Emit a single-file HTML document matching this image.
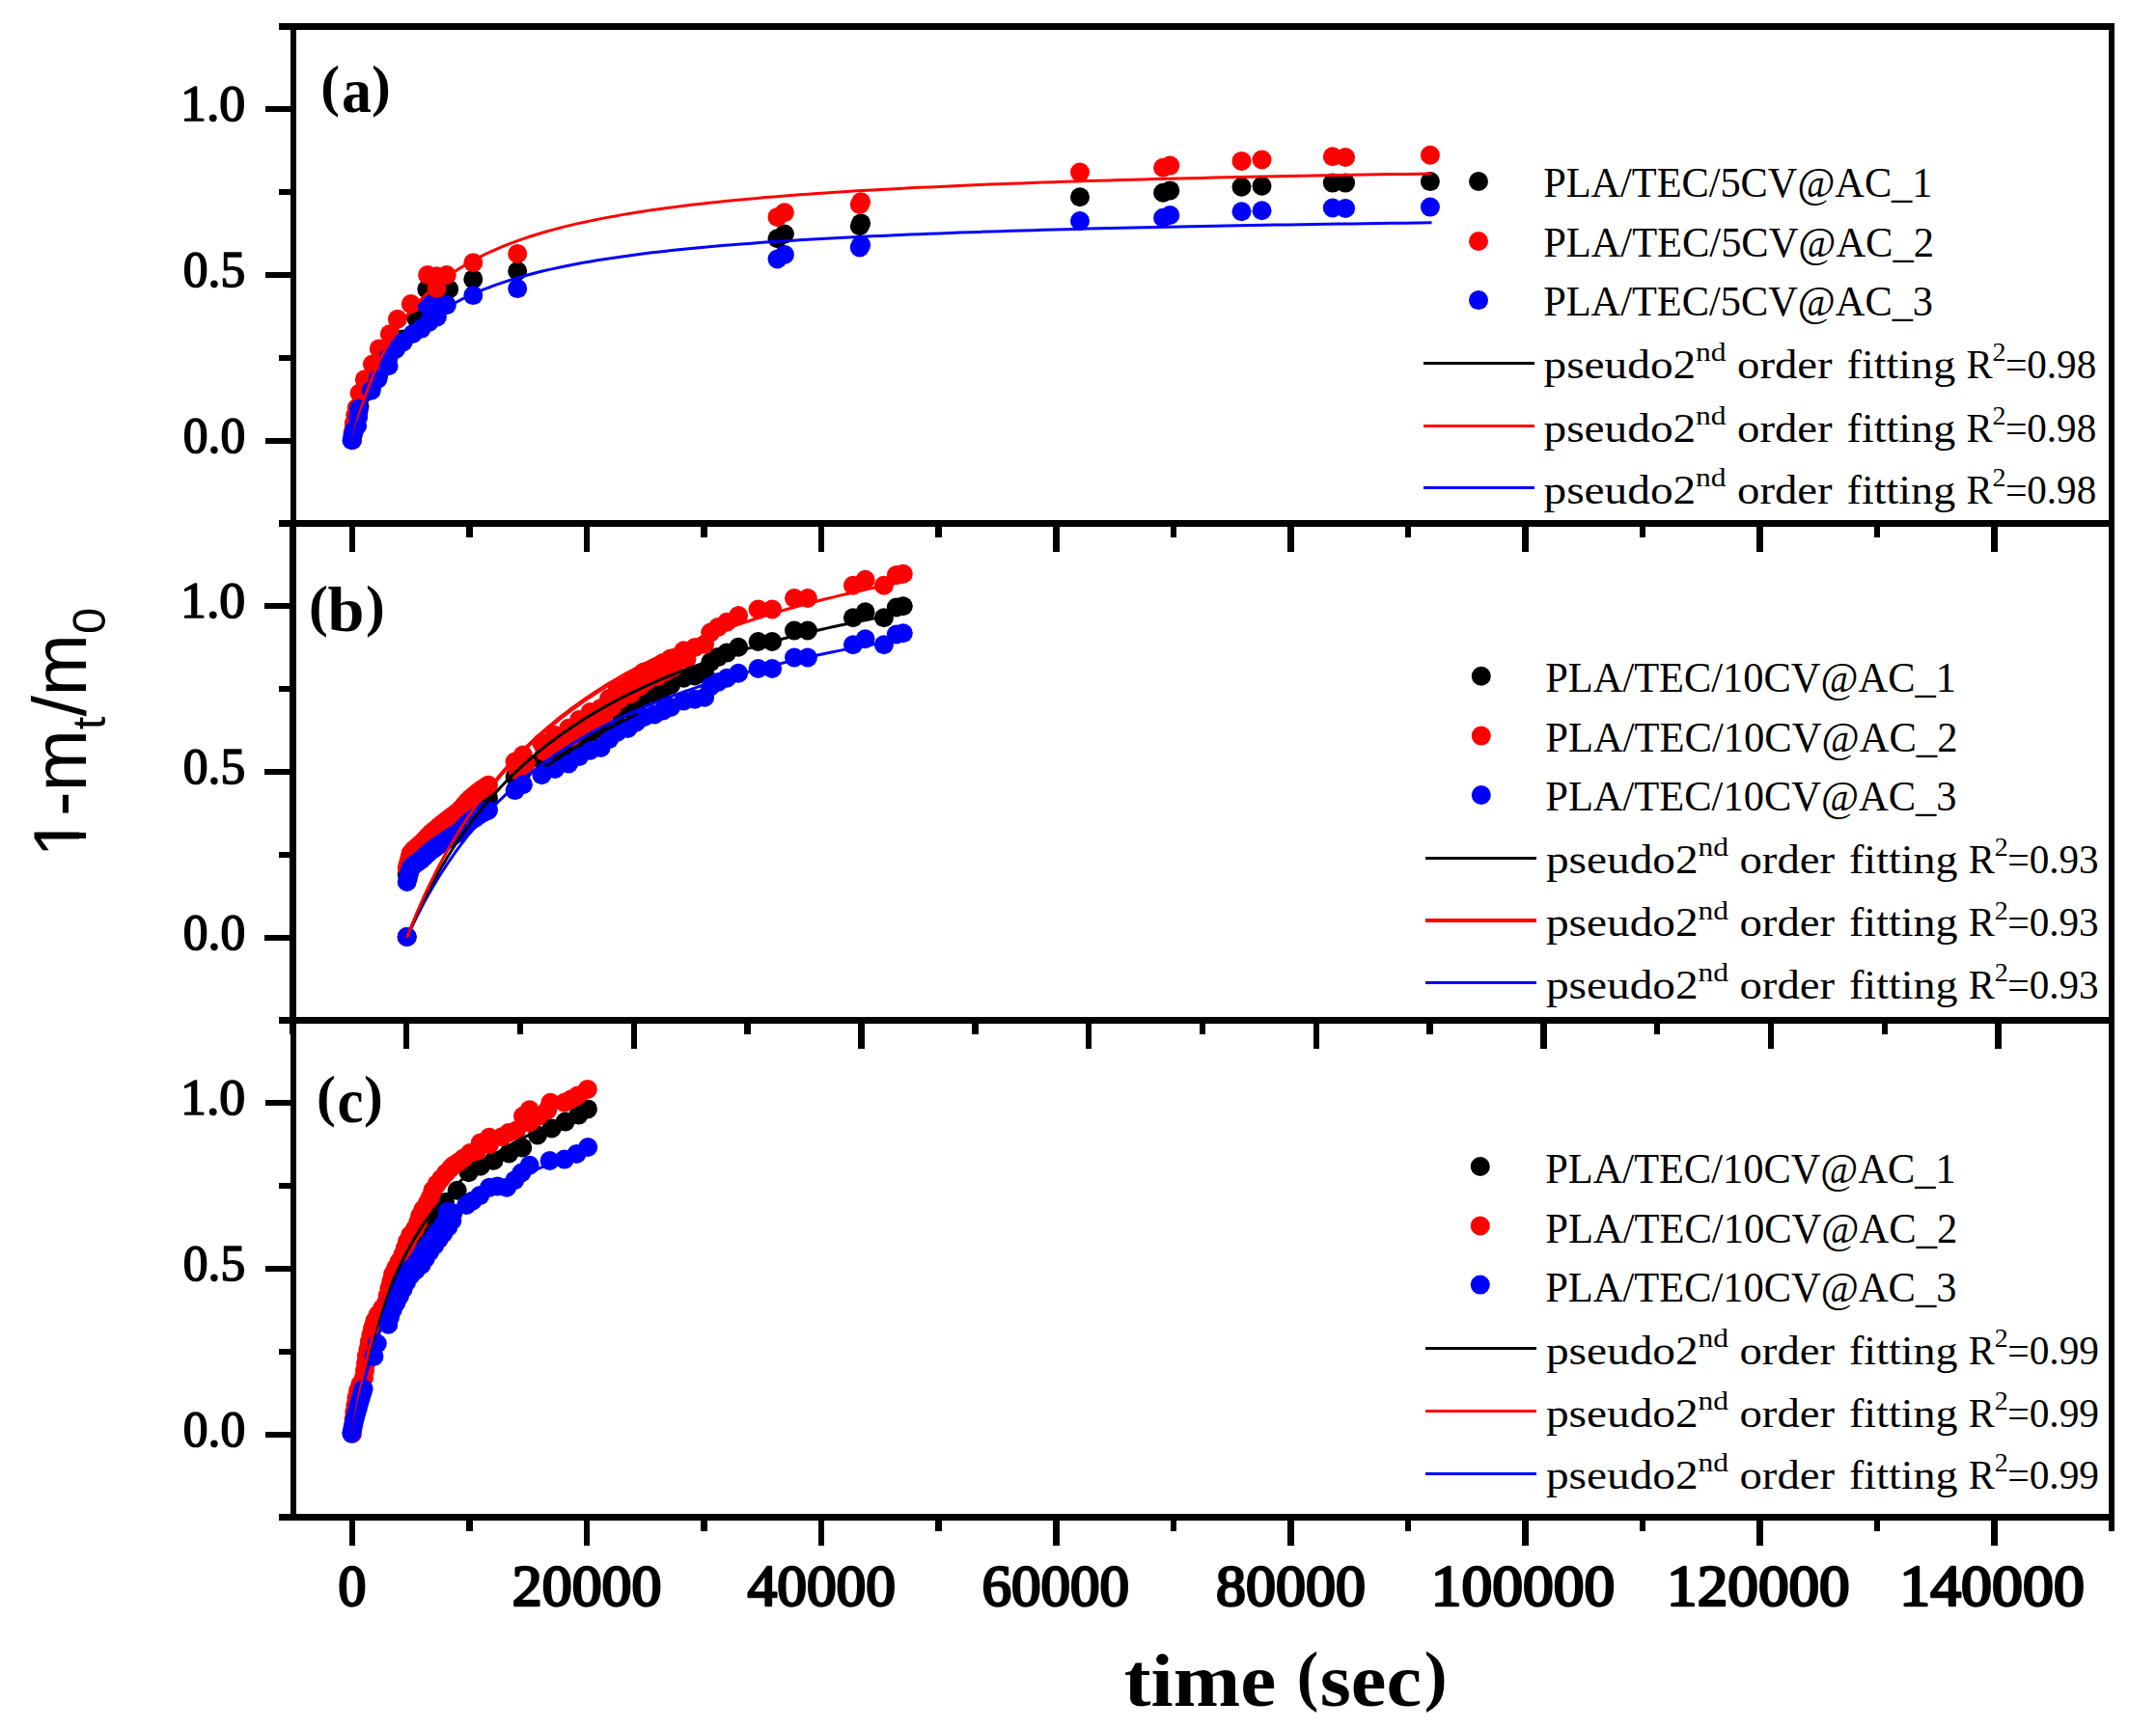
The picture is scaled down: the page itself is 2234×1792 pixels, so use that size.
<!DOCTYPE html>
<html lang="en"><head><meta charset="utf-8"><title>Release kinetics</title>
<style>html,body{margin:0;padding:0;background:#fff}svg{display:block}</style></head>
<body>
<svg width="2234" height="1792" viewBox="0 0 2234 1792">
<rect width="2234" height="1792" fill="#fff"/>
<g id="plots">
<g fill="#000000"><circle cx="365.0" cy="456.3" r="10"/><circle cx="365.8" cy="450.0" r="10"/><circle cx="367.0" cy="444.0" r="10"/><circle cx="369.0" cy="439.0" r="10"/><circle cx="371.0" cy="430.0" r="10"/><circle cx="372.5" cy="421.0" r="10"/><circle cx="376.5" cy="408.0" r="10"/><circle cx="385.0" cy="401.5" r="10"/><circle cx="392.0" cy="389.5" r="10"/><circle cx="401.0" cy="375.0" r="10"/><circle cx="409.0" cy="360.5" r="10"/><circle cx="417.0" cy="351.5" r="10"/><circle cx="431.0" cy="329.5" r="10"/><circle cx="442.3" cy="299.8" r="10"/><circle cx="452.5" cy="301.0" r="10"/><circle cx="465.2" cy="299.8" r="10"/><circle cx="490.3" cy="289.4" r="10"/><circle cx="536.2" cy="281.0" r="10"/><circle cx="805.5" cy="247.2" r="10"/><circle cx="812.9" cy="242.6" r="10"/><circle cx="890.8" cy="234.2" r="10"/><circle cx="892.1" cy="231.4" r="10"/><circle cx="1119.0" cy="204.2" r="10"/><circle cx="1205.1" cy="199.8" r="10"/><circle cx="1212.3" cy="197.4" r="10"/><circle cx="1286.5" cy="193.7" r="10"/><circle cx="1307.5" cy="192.7" r="10"/><circle cx="1380.8" cy="189.6" r="10"/><circle cx="1394.1" cy="189.6" r="10"/><circle cx="1481.9" cy="188.1" r="10"/></g>
<g fill="#ff0000"><circle cx="365.0" cy="456.0" r="10"/><circle cx="365.6" cy="448.1" r="10"/><circle cx="366.8" cy="438.9" r="10"/><circle cx="368.2" cy="430.5" r="10"/><circle cx="369.7" cy="422.7" r="10"/><circle cx="372.6" cy="407.6" r="10"/><circle cx="377.8" cy="393.2" r="10"/><circle cx="385.9" cy="377.6" r="10"/><circle cx="392.8" cy="361.4" r="10"/><circle cx="403.8" cy="346.3" r="10"/><circle cx="411.9" cy="330.7" r="10"/><circle cx="425.8" cy="315.1" r="10"/><circle cx="452.5" cy="299.0" r="10"/><circle cx="443.1" cy="285.0" r="10"/><circle cx="452.4" cy="286.2" r="10"/><circle cx="462.8" cy="285.0" r="10"/><circle cx="490.3" cy="272.3" r="10"/><circle cx="536.2" cy="263.0" r="10"/><circle cx="805.5" cy="224.9" r="10"/><circle cx="812.9" cy="220.3" r="10"/><circle cx="890.8" cy="212.0" r="10"/><circle cx="892.1" cy="209.2" r="10"/><circle cx="1119.0" cy="178.6" r="10"/><circle cx="1205.1" cy="173.8" r="10"/><circle cx="1212.3" cy="171.6" r="10"/><circle cx="1286.5" cy="166.9" r="10"/><circle cx="1307.5" cy="165.5" r="10"/><circle cx="1380.8" cy="162.3" r="10"/><circle cx="1394.1" cy="163.0" r="10"/><circle cx="1481.9" cy="160.8" r="10"/></g>
<g fill="#0000ff"><circle cx="364.5" cy="456.2" r="10"/><circle cx="365.5" cy="451.0" r="10"/><circle cx="367.0" cy="446.0" r="10"/><circle cx="370.1" cy="441.2" r="10"/><circle cx="371.2" cy="432.0" r="10"/><circle cx="372.0" cy="423.8" r="10"/><circle cx="384.7" cy="404.7" r="10"/><circle cx="391.6" cy="392.6" r="10"/><circle cx="402.6" cy="379.3" r="10"/><circle cx="402.6" cy="370.6" r="10"/><circle cx="410.0" cy="362.0" r="10"/><circle cx="417.7" cy="354.4" r="10"/><circle cx="427.7" cy="346.0" r="10"/><circle cx="436.7" cy="340.6" r="10"/><circle cx="444.5" cy="334.0" r="10"/><circle cx="452.9" cy="328.4" r="10"/><circle cx="442.5" cy="316.3" r="10"/><circle cx="452.9" cy="318.5" r="10"/><circle cx="462.8" cy="316.3" r="10"/><circle cx="490.3" cy="306.1" r="10"/><circle cx="536.2" cy="299.1" r="10"/><circle cx="805.5" cy="268.5" r="10"/><circle cx="812.9" cy="263.9" r="10"/><circle cx="890.8" cy="256.5" r="10"/><circle cx="892.1" cy="253.7" r="10"/><circle cx="1119.0" cy="229.0" r="10"/><circle cx="1205.1" cy="225.8" r="10"/><circle cx="1212.3" cy="223.0" r="10"/><circle cx="1286.5" cy="219.3" r="10"/><circle cx="1307.5" cy="218.3" r="10"/><circle cx="1380.8" cy="215.5" r="10"/><circle cx="1394.1" cy="215.9" r="10"/><circle cx="1481.9" cy="214.6" r="10"/></g>
<path d="M365.0 456.5 L365.0 456.3 L365.2 455.8 L365.4 454.9 L365.7 453.7 L366.1 452.1 L366.6 450.2 L367.1 448.0 L367.8 445.6 L368.5 442.8 L369.4 439.8 L370.3 436.5 L371.3 433.0 L372.4 429.3 L373.6 425.4 L374.8 421.3 L376.2 417.1 L377.6 412.8 L379.2 408.4 L380.8 403.9 L382.5 399.3 L384.3 394.6 L386.1 390.0 L388.1 385.3 L390.2 380.6 L392.3 375.9 L394.5 371.2 L396.9 366.6 L399.3 362.0 L401.7 357.4 L404.3 352.9 L407.0 348.5 L409.7 344.1 L412.6 339.8 L415.5 335.6 L418.5 331.4 L421.6 327.3 L424.8 323.3 L428.1 319.4 L431.5 315.6 L434.9 311.9 L438.4 308.3 L442.1 304.7 L445.8 301.3 L449.6 297.9 L453.5 294.6 L457.5 291.4 L461.5 288.3 L465.7 285.3 L469.9 282.3 L474.2 279.5 L478.6 276.7 L483.1 274.0 L487.7 271.3 L492.4 268.8 L497.2 266.3 L502.0 263.9 L507.0 261.5 L512.0 259.3 L517.1 257.1 L522.3 254.9 L527.6 252.8 L532.9 250.8 L538.4 248.8 L544.0 246.9 L549.6 245.0 L555.3 243.2 L561.1 241.5 L567.0 239.8 L573.0 238.1 L579.1 236.5 L585.2 234.9 L591.5 233.4 L597.8 231.9 L604.3 230.5 L610.8 229.1 L617.4 227.7 L624.0 226.4 L630.8 225.1 L637.7 223.9 L644.6 222.6 L651.7 221.4 L658.8 220.3 L666.0 219.2 L673.3 218.1 L680.7 217.0 L688.1 216.0 L695.7 215.0 L703.3 214.0 L711.1 213.0 L718.9 212.1 L726.8 211.2 L734.8 210.3 L742.9 209.4 L751.1 208.6 L759.3 207.7 L767.7 206.9 L776.1 206.2 L784.6 205.4 L793.2 204.6 L801.9 203.9 L810.7 203.2 L819.6 202.5 L828.5 201.8 L837.6 201.2 L846.7 200.5 L855.9 199.9 L865.2 199.3 L874.6 198.7 L884.1 198.1 L893.7 197.5 L903.3 197.0 L913.1 196.4 L922.9 195.9 L932.8 195.4 L942.8 194.8 L952.9 194.3 L963.1 193.9 L973.4 193.4 L983.7 192.9 L994.2 192.4 L1004.7 192.0 L1015.3 191.6 L1026.0 191.1 L1036.8 190.7 L1047.7 190.3 L1058.6 189.9 L1069.7 189.5 L1080.8 189.1 L1092.1 188.7 L1103.4 188.3 L1114.8 188.0 L1126.3 187.6 L1137.9 187.3 L1149.5 186.9 L1161.3 186.6 L1173.1 186.3 L1185.0 185.9 L1197.1 185.6 L1209.2 185.3 L1221.4 185.0 L1233.6 184.7 L1246.0 184.4 L1258.4 184.1 L1271.0 183.8 L1283.6 183.6 L1296.3 183.3 L1309.1 183.0 L1322.0 182.8 L1335.0 182.5 L1348.1 182.2 L1361.2 182.0 L1374.4 181.8 L1387.8 181.5 L1401.2 181.3 L1414.7 181.0 L1428.3 180.8 L1441.9 180.6 L1455.7 180.4 L1469.6 180.2 L1483.5 179.9" fill="none" stroke="#ff0000" stroke-width="3.0" stroke-linejoin="round"/>
<path d="M365.0 456.5 L365.0 456.4 L365.2 455.9 L365.4 455.2 L365.7 454.2 L366.1 453.0 L366.6 451.4 L367.1 449.7 L367.8 447.6 L368.5 445.4 L369.4 442.9 L370.3 440.3 L371.3 437.4 L372.4 434.4 L373.6 431.3 L374.8 428.0 L376.2 424.6 L377.6 421.1 L379.2 417.5 L380.8 413.8 L382.5 410.1 L384.3 406.3 L386.1 402.6 L388.1 398.7 L390.2 394.9 L392.3 391.1 L394.5 387.3 L396.9 383.5 L399.3 379.8 L401.7 376.1 L404.3 372.4 L407.0 368.8 L409.7 365.2 L412.6 361.7 L415.5 358.3 L418.5 354.9 L421.6 351.6 L424.8 348.3 L428.1 345.1 L431.5 342.0 L434.9 339.0 L438.4 336.0 L442.1 333.1 L445.8 330.3 L449.6 327.5 L453.5 324.8 L457.5 322.2 L461.5 319.7 L465.7 317.2 L469.9 314.8 L474.2 312.5 L478.6 310.2 L483.1 308.0 L487.7 305.8 L492.4 303.7 L497.2 301.7 L502.0 299.7 L507.0 297.8 L512.0 295.9 L517.1 294.1 L522.3 292.4 L527.6 290.6 L532.9 289.0 L538.4 287.4 L544.0 285.8 L549.6 284.3 L555.3 282.8 L561.1 281.3 L567.0 279.9 L573.0 278.6 L579.1 277.3 L585.2 276.0 L591.5 274.7 L597.8 273.5 L604.3 272.3 L610.8 271.2 L617.4 270.1 L624.0 269.0 L630.8 267.9 L637.7 266.9 L644.6 265.9 L651.7 264.9 L658.8 264.0 L666.0 263.0 L673.3 262.1 L680.7 261.3 L688.1 260.4 L695.7 259.6 L703.3 258.8 L711.1 258.0 L718.9 257.2 L726.8 256.5 L734.8 255.7 L742.9 255.0 L751.1 254.3 L759.3 253.7 L767.7 253.0 L776.1 252.4 L784.6 251.7 L793.2 251.1 L801.9 250.5 L810.7 249.9 L819.6 249.4 L828.5 248.8 L837.6 248.3 L846.7 247.7 L855.9 247.2 L865.2 246.7 L874.6 246.2 L884.1 245.7 L893.7 245.3 L903.3 244.8 L913.1 244.4 L922.9 243.9 L932.8 243.5 L942.8 243.1 L952.9 242.7 L963.1 242.2 L973.4 241.9 L983.7 241.5 L994.2 241.1 L1004.7 240.7 L1015.3 240.4 L1026.0 240.0 L1036.8 239.7 L1047.7 239.3 L1058.6 239.0 L1069.7 238.7 L1080.8 238.3 L1092.1 238.0 L1103.4 237.7 L1114.8 237.4 L1126.3 237.1 L1137.9 236.8 L1149.5 236.6 L1161.3 236.3 L1173.1 236.0 L1185.0 235.7 L1197.1 235.5 L1209.2 235.2 L1221.4 235.0 L1233.6 234.7 L1246.0 234.5 L1258.4 234.2 L1271.0 234.0 L1283.6 233.8 L1296.3 233.6 L1309.1 233.3 L1322.0 233.1 L1335.0 232.9 L1348.1 232.7 L1361.2 232.5 L1374.4 232.3 L1387.8 232.1 L1401.2 231.9 L1414.7 231.7 L1428.3 231.5 L1441.9 231.3 L1455.7 231.2 L1469.6 231.0 L1483.5 230.8" fill="none" stroke="#0000ff" stroke-width="3.0" stroke-linejoin="round"/>
<g fill="#000000"><circle cx="421.7" cy="971.0" r="10"/><circle cx="421.7" cy="906.0" r="10"/><circle cx="423.0" cy="901.2" r="10"/><circle cx="424.3" cy="896.5" r="10"/><circle cx="425.6" cy="891.8" r="10"/><circle cx="428.6" cy="888.3" r="10"/><circle cx="432.4" cy="885.3" r="10"/><circle cx="436.2" cy="882.3" r="10"/><circle cx="439.7" cy="879.0" r="10"/><circle cx="443.1" cy="875.6" r="10"/><circle cx="446.6" cy="872.3" r="10"/><circle cx="450.5" cy="869.4" r="10"/><circle cx="454.3" cy="866.5" r="10"/><circle cx="458.2" cy="863.6" r="10"/><circle cx="462.1" cy="860.8" r="10"/><circle cx="466.0" cy="858.0" r="10"/><circle cx="470.0" cy="855.3" r="10"/><circle cx="474.0" cy="852.6" r="10"/><circle cx="477.7" cy="849.6" r="10"/><circle cx="480.9" cy="846.0" r="10"/><circle cx="484.1" cy="842.4" r="10"/><circle cx="487.7" cy="839.2" r="10"/><circle cx="491.6" cy="836.3" r="10"/><circle cx="495.4" cy="833.4" r="10"/><circle cx="499.4" cy="830.7" r="10"/><circle cx="503.6" cy="828.4" r="10"/><circle cx="506.0" cy="827.0" r="10"/><circle cx="533.6" cy="805.0" r="10"/><circle cx="541.9" cy="798.6" r="10"/><circle cx="561.4" cy="787.6" r="10"/><circle cx="575.0" cy="780.5" r="10"/><circle cx="589.2" cy="774.3" r="10"/><circle cx="600.0" cy="766.4" r="10"/><circle cx="611.5" cy="759.3" r="10"/><circle cx="622.6" cy="755.9" r="10"/><circle cx="631.0" cy="746.7" r="10"/><circle cx="639.3" cy="739.1" r="10"/><circle cx="650.5" cy="734.4" r="10"/><circle cx="659.0" cy="727.8" r="10"/><circle cx="667.2" cy="721.8" r="10"/><circle cx="678.3" cy="718.4" r="10"/><circle cx="687.0" cy="713.9" r="10"/><circle cx="695.0" cy="709.9" r="10"/><circle cx="708.4" cy="702.8" r="10"/><circle cx="720.0" cy="700.4" r="10"/><circle cx="730.1" cy="697.8" r="10"/><circle cx="736.2" cy="686.2" r="10"/><circle cx="744.0" cy="681.1" r="10"/><circle cx="753.1" cy="676.6" r="10"/><circle cx="765.1" cy="670.8" r="10"/><circle cx="785.6" cy="665.0" r="10"/><circle cx="800.1" cy="665.0" r="10"/><circle cx="823.0" cy="653.5" r="10"/><circle cx="836.9" cy="653.5" r="10"/><circle cx="883.9" cy="640.3" r="10"/><circle cx="896.6" cy="634.3" r="10"/><circle cx="915.9" cy="640.3" r="10"/><circle cx="928.8" cy="629.5" r="10"/><circle cx="935.8" cy="628.2" r="10"/></g>
<g fill="#ff0000"><circle cx="421.7" cy="971.0" r="10"/><circle cx="421.7" cy="899.0" r="10"/><circle cx="423.0" cy="894.2" r="10"/><circle cx="424.3" cy="889.3" r="10"/><circle cx="425.6" cy="884.5" r="10"/><circle cx="428.6" cy="880.8" r="10"/><circle cx="432.4" cy="877.5" r="10"/><circle cx="436.2" cy="874.3" r="10"/><circle cx="439.7" cy="870.7" r="10"/><circle cx="443.1" cy="867.0" r="10"/><circle cx="446.6" cy="863.5" r="10"/><circle cx="450.5" cy="860.3" r="10"/><circle cx="454.3" cy="857.1" r="10"/><circle cx="458.2" cy="853.9" r="10"/><circle cx="462.1" cy="850.8" r="10"/><circle cx="466.0" cy="847.7" r="10"/><circle cx="470.0" cy="844.7" r="10"/><circle cx="474.0" cy="841.7" r="10"/><circle cx="477.7" cy="838.4" r="10"/><circle cx="480.9" cy="834.6" r="10"/><circle cx="484.1" cy="830.7" r="10"/><circle cx="487.7" cy="827.3" r="10"/><circle cx="491.6" cy="824.1" r="10"/><circle cx="495.4" cy="820.9" r="10"/><circle cx="499.4" cy="817.9" r="10"/><circle cx="503.6" cy="815.2" r="10"/><circle cx="506.0" cy="813.7" r="10"/><circle cx="533.6" cy="789.6" r="10"/><circle cx="541.9" cy="782.6" r="10"/><circle cx="561.4" cy="770.1" r="10"/><circle cx="575.0" cy="762.0" r="10"/><circle cx="589.2" cy="754.8" r="10"/><circle cx="600.0" cy="746.0" r="10"/><circle cx="611.5" cy="738.1" r="10"/><circle cx="622.6" cy="733.9" r="10"/><circle cx="631.0" cy="724.0" r="10"/><circle cx="639.3" cy="715.8" r="10"/><circle cx="650.5" cy="710.3" r="10"/><circle cx="659.0" cy="703.0" r="10"/><circle cx="667.2" cy="696.4" r="10"/><circle cx="678.3" cy="692.2" r="10"/><circle cx="687.0" cy="687.0" r="10"/><circle cx="695.0" cy="682.4" r="10"/><circle cx="708.4" cy="674.3" r="10"/><circle cx="720.0" cy="671.0" r="10"/><circle cx="730.1" cy="667.7" r="10"/><circle cx="736.2" cy="655.6" r="10"/><circle cx="744.0" cy="650.0" r="10"/><circle cx="753.1" cy="644.8" r="10"/><circle cx="765.1" cy="638.1" r="10"/><circle cx="785.6" cy="631.5" r="10"/><circle cx="800.1" cy="631.5" r="10"/><circle cx="823.0" cy="620.0" r="10"/><circle cx="836.9" cy="620.0" r="10"/><circle cx="883.9" cy="606.8" r="10"/><circle cx="896.6" cy="600.8" r="10"/><circle cx="915.9" cy="606.8" r="10"/><circle cx="928.8" cy="596.0" r="10"/><circle cx="935.8" cy="594.7" r="10"/><circle cx="536.6" cy="798.6" r="10"/><circle cx="544.9" cy="791.6" r="10"/><circle cx="564.4" cy="779.1" r="10"/><circle cx="578.0" cy="771.0" r="10"/><circle cx="592.2" cy="763.8" r="10"/><circle cx="603.0" cy="755.0" r="10"/><circle cx="614.5" cy="747.1" r="10"/><circle cx="625.6" cy="742.9" r="10"/><circle cx="634.0" cy="733.0" r="10"/><circle cx="642.3" cy="724.8" r="10"/><circle cx="653.5" cy="719.3" r="10"/><circle cx="662.0" cy="712.0" r="10"/><circle cx="670.2" cy="705.4" r="10"/><circle cx="681.3" cy="701.2" r="10"/><circle cx="690.0" cy="696.0" r="10"/><circle cx="698.0" cy="691.4" r="10"/><circle cx="711.4" cy="683.3" r="10"/></g>
<g fill="#0000ff"><circle cx="421.7" cy="971.0" r="10"/><circle cx="421.7" cy="914.0" r="10"/><circle cx="423.0" cy="909.3" r="10"/><circle cx="424.3" cy="904.6" r="10"/><circle cx="425.6" cy="900.0" r="10"/><circle cx="428.6" cy="896.6" r="10"/><circle cx="432.4" cy="893.9" r="10"/><circle cx="436.2" cy="891.1" r="10"/><circle cx="439.7" cy="888.0" r="10"/><circle cx="443.1" cy="884.8" r="10"/><circle cx="446.6" cy="881.7" r="10"/><circle cx="450.5" cy="879.0" r="10"/><circle cx="454.3" cy="876.3" r="10"/><circle cx="458.2" cy="873.6" r="10"/><circle cx="462.1" cy="871.0" r="10"/><circle cx="466.0" cy="868.4" r="10"/><circle cx="470.0" cy="865.9" r="10"/><circle cx="474.0" cy="863.5" r="10"/><circle cx="477.7" cy="860.7" r="10"/><circle cx="480.9" cy="857.2" r="10"/><circle cx="484.1" cy="853.8" r="10"/><circle cx="487.7" cy="850.8" r="10"/><circle cx="491.6" cy="848.1" r="10"/><circle cx="495.4" cy="845.4" r="10"/><circle cx="499.4" cy="843.0" r="10"/><circle cx="503.6" cy="840.8" r="10"/><circle cx="506.0" cy="839.6" r="10"/><circle cx="533.6" cy="819.1" r="10"/><circle cx="541.9" cy="813.2" r="10"/><circle cx="561.4" cy="803.2" r="10"/><circle cx="575.0" cy="796.9" r="10"/><circle cx="589.2" cy="791.5" r="10"/><circle cx="600.0" cy="784.1" r="10"/><circle cx="611.5" cy="777.7" r="10"/><circle cx="622.6" cy="775.0" r="10"/><circle cx="631.0" cy="766.2" r="10"/><circle cx="639.3" cy="759.0" r="10"/><circle cx="650.5" cy="755.0" r="10"/><circle cx="659.0" cy="748.8" r="10"/><circle cx="667.2" cy="743.3" r="10"/><circle cx="678.3" cy="740.5" r="10"/><circle cx="687.0" cy="736.5" r="10"/><circle cx="695.0" cy="732.9" r="10"/><circle cx="708.4" cy="726.5" r="10"/><circle cx="720.0" cy="724.7" r="10"/><circle cx="730.1" cy="722.8" r="10"/><circle cx="736.2" cy="711.4" r="10"/><circle cx="744.0" cy="706.9" r="10"/><circle cx="753.1" cy="702.8" r="10"/><circle cx="765.1" cy="697.7" r="10"/><circle cx="785.6" cy="693.0" r="10"/><circle cx="800.1" cy="693.0" r="10"/><circle cx="823.0" cy="681.5" r="10"/><circle cx="836.9" cy="681.5" r="10"/><circle cx="883.9" cy="668.3" r="10"/><circle cx="896.6" cy="662.3" r="10"/><circle cx="915.9" cy="668.3" r="10"/><circle cx="928.8" cy="657.5" r="10"/><circle cx="935.8" cy="656.2" r="10"/></g>
<path d="M421.7 971.5 L421.7 971.5 L421.8 971.3 L421.9 971.1 L422.0 970.8 L422.2 970.4 L422.4 969.9 L422.7 969.3 L423.0 968.7 L423.3 967.9 L423.7 967.1 L424.1 966.2 L424.6 965.2 L425.1 964.1 L425.6 962.9 L426.2 961.7 L426.9 960.3 L427.5 959.0 L428.2 957.5 L429.0 955.9 L429.8 954.3 L430.6 952.6 L431.4 950.9 L432.3 949.1 L433.3 947.2 L434.3 945.3 L435.3 943.3 L436.4 941.2 L437.5 939.1 L438.6 936.9 L439.8 934.7 L441.0 932.5 L442.3 930.2 L443.6 927.8 L445.0 925.4 L446.4 923.0 L447.8 920.5 L449.3 918.0 L450.8 915.4 L452.3 912.9 L453.9 910.3 L455.5 907.6 L457.2 905.0 L458.9 902.3 L460.7 899.6 L462.5 896.9 L464.3 894.1 L466.2 891.4 L468.1 888.6 L470.0 885.8 L472.0 883.0 L474.1 880.2 L476.1 877.4 L478.2 874.6 L480.4 871.8 L482.6 868.9 L484.8 866.1 L487.1 863.3 L489.4 860.5 L491.8 857.6 L494.2 854.8 L496.6 852.0 L499.1 849.2 L501.6 846.4 L504.1 843.6 L506.7 840.8 L509.4 838.0 L512.1 835.3 L514.8 832.5 L517.5 829.8 L520.3 827.1 L523.2 824.3 L526.0 821.6 L529.0 819.0 L531.9 816.3 L534.9 813.7 L538.0 811.0 L541.0 808.4 L544.2 805.8 L547.3 803.2 L550.5 800.7 L553.8 798.1 L557.0 795.6 L560.4 793.1 L563.7 790.6 L567.1 788.2 L570.6 785.8 L574.1 783.3 L577.6 780.9 L581.1 778.6 L584.7 776.2 L588.4 773.9 L592.1 771.6 L595.8 769.3 L599.6 767.0 L603.4 764.8 L607.2 762.6 L611.1 760.4 L615.0 758.2 L619.0 756.1 L623.0 754.0 L627.0 751.8 L631.1 749.8 L635.2 747.7 L639.4 745.7 L643.6 743.7 L647.9 741.7 L652.2 739.7 L656.5 737.7 L660.9 735.8 L665.3 733.9 L669.7 732.0 L674.2 730.1 L678.7 728.3 L683.3 726.5 L687.9 724.7 L692.6 722.9 L697.2 721.1 L702.0 719.4 L706.7 717.7 L711.6 716.0 L716.4 714.3 L721.3 712.6 L726.2 711.0 L731.2 709.4 L736.2 707.8 L741.3 706.2 L746.4 704.6 L751.5 703.1 L756.7 701.6 L761.9 700.1 L767.1 698.6 L772.4 697.1 L777.8 695.6 L783.1 694.2 L788.5 692.8 L794.0 691.4 L799.5 690.0 L805.0 688.6 L810.6 687.3 L816.2 685.9 L821.9 684.6 L827.6 683.3 L833.3 682.0 L839.1 680.8 L844.9 679.5 L850.8 678.3 L856.7 677.0 L862.6 675.8 L868.6 674.6 L874.6 673.4 L880.7 672.3 L886.8 671.1 L892.9 670.0 L899.1 668.8 L905.3 667.7 L911.6 666.6 L917.9 665.5 L924.2 664.5 L930.6 663.4 L937.0 662.3" fill="none" stroke="#0000ff" stroke-width="3.0" stroke-linejoin="round"/>
<path d="M421.7 971.5 L421.7 971.5 L421.8 971.3 L421.9 971.1 L422.0 970.7 L422.2 970.3 L422.4 969.8 L422.7 969.1 L423.0 968.4 L423.3 967.6 L423.7 966.7 L424.1 965.7 L424.6 964.6 L425.1 963.4 L425.6 962.1 L426.2 960.8 L426.9 959.3 L427.5 957.8 L428.2 956.2 L429.0 954.5 L429.8 952.8 L430.6 951.0 L431.4 949.1 L432.3 947.1 L433.3 945.0 L434.3 942.9 L435.3 940.7 L436.4 938.5 L437.5 936.2 L438.6 933.8 L439.8 931.4 L441.0 929.0 L442.3 926.5 L443.6 923.9 L445.0 921.3 L446.4 918.6 L447.8 915.9 L449.3 913.2 L450.8 910.4 L452.3 907.6 L453.9 904.8 L455.5 901.9 L457.2 899.0 L458.9 896.1 L460.7 893.2 L462.5 890.2 L464.3 887.2 L466.2 884.2 L468.1 881.2 L470.0 878.2 L472.0 875.1 L474.1 872.1 L476.1 869.0 L478.2 865.9 L480.4 862.9 L482.6 859.8 L484.8 856.7 L487.1 853.6 L489.4 850.6 L491.8 847.5 L494.2 844.4 L496.6 841.4 L499.1 838.3 L501.6 835.3 L504.1 832.2 L506.7 829.2 L509.4 826.2 L512.1 823.2 L514.8 820.2 L517.5 817.2 L520.3 814.2 L523.2 811.3 L526.0 808.3 L529.0 805.4 L531.9 802.5 L534.9 799.6 L538.0 796.8 L541.0 793.9 L544.2 791.1 L547.3 788.3 L550.5 785.5 L553.8 782.8 L557.0 780.0 L560.4 777.3 L563.7 774.6 L567.1 771.9 L570.6 769.3 L574.1 766.7 L577.6 764.1 L581.1 761.5 L584.7 758.9 L588.4 756.4 L592.1 753.9 L595.8 751.4 L599.6 749.0 L603.4 746.5 L607.2 744.1 L611.1 741.7 L615.0 739.4 L619.0 737.0 L623.0 734.7 L627.0 732.4 L631.1 730.2 L635.2 727.9 L639.4 725.7 L643.6 723.5 L647.9 721.4 L652.2 719.2 L656.5 717.1 L660.9 715.0 L665.3 712.9 L669.7 710.9 L674.2 708.9 L678.7 706.8 L683.3 704.9 L687.9 702.9 L692.6 701.0 L697.2 699.1 L702.0 697.2 L706.7 695.3 L711.6 693.5 L716.4 691.6 L721.3 689.8 L726.2 688.1 L731.2 686.3 L736.2 684.6 L741.3 682.8 L746.4 681.1 L751.5 679.5 L756.7 677.8 L761.9 676.2 L767.1 674.5 L772.4 672.9 L777.8 671.4 L783.1 669.8 L788.5 668.3 L794.0 666.7 L799.5 665.2 L805.0 663.7 L810.6 662.3 L816.2 660.8 L821.9 659.4 L827.6 658.0 L833.3 656.6 L839.1 655.2 L844.9 653.8 L850.8 652.5 L856.7 651.1 L862.6 649.8 L868.6 648.5 L874.6 647.2 L880.7 646.0 L886.8 644.7 L892.9 643.5 L899.1 642.2 L905.3 641.0 L911.6 639.8 L917.9 638.7 L924.2 637.5 L930.6 636.3 L937.0 635.2" fill="none" stroke="#000000" stroke-width="3.0" stroke-linejoin="round"/>
<path d="M421.7 971.5 L421.7 971.4 L421.8 971.3 L421.9 971.0 L422.0 970.7 L422.2 970.2 L422.4 969.6 L422.7 968.9 L423.0 968.2 L423.3 967.3 L423.7 966.3 L424.1 965.2 L424.6 964.0 L425.1 962.8 L425.6 961.4 L426.2 959.9 L426.9 958.4 L427.5 956.7 L428.2 955.0 L429.0 953.2 L429.8 951.3 L430.6 949.3 L431.4 947.3 L432.3 945.1 L433.3 942.9 L434.3 940.6 L435.3 938.3 L436.4 935.9 L437.5 933.4 L438.6 930.8 L439.8 928.2 L441.0 925.5 L442.3 922.8 L443.6 920.0 L445.0 917.2 L446.4 914.3 L447.8 911.4 L449.3 908.4 L450.8 905.4 L452.3 902.4 L453.9 899.3 L455.5 896.2 L457.2 893.1 L458.9 889.9 L460.7 886.7 L462.5 883.5 L464.3 880.2 L466.2 877.0 L468.1 873.7 L470.0 870.4 L472.0 867.1 L474.1 863.7 L476.1 860.4 L478.2 857.1 L480.4 853.7 L482.6 850.4 L484.8 847.0 L487.1 843.7 L489.4 840.3 L491.8 836.9 L494.2 833.6 L496.6 830.2 L499.1 826.9 L501.6 823.6 L504.1 820.3 L506.7 816.9 L509.4 813.6 L512.1 810.3 L514.8 807.1 L517.5 803.8 L520.3 800.6 L523.2 797.3 L526.0 794.1 L529.0 790.9 L531.9 787.7 L534.9 784.6 L538.0 781.4 L541.0 778.3 L544.2 775.2 L547.3 772.1 L550.5 769.1 L553.8 766.1 L557.0 763.1 L560.4 760.1 L563.7 757.1 L567.1 754.2 L570.6 751.3 L574.1 748.4 L577.6 745.5 L581.1 742.7 L584.7 739.9 L588.4 737.1 L592.1 734.3 L595.8 731.6 L599.6 728.9 L603.4 726.2 L607.2 723.5 L611.1 720.9 L615.0 718.3 L619.0 715.7 L623.0 713.2 L627.0 710.6 L631.1 708.1 L635.2 705.7 L639.4 703.2 L643.6 700.8 L647.9 698.4 L652.2 696.0 L656.5 693.7 L660.9 691.4 L665.3 689.1 L669.7 686.8 L674.2 684.6 L678.7 682.4 L683.3 680.2 L687.9 678.0 L692.6 675.9 L697.2 673.7 L702.0 671.7 L706.7 669.6 L711.6 667.5 L716.4 665.5 L721.3 663.5 L726.2 661.5 L731.2 659.6 L736.2 657.7 L741.3 655.8 L746.4 653.9 L751.5 652.0 L756.7 650.2 L761.9 648.3 L767.1 646.6 L772.4 644.8 L777.8 643.0 L783.1 641.3 L788.5 639.6 L794.0 637.9 L799.5 636.2 L805.0 634.6 L810.6 632.9 L816.2 631.3 L821.9 629.7 L827.6 628.1 L833.3 626.6 L839.1 625.0 L844.9 623.5 L850.8 622.0 L856.7 620.5 L862.6 619.1 L868.6 617.6 L874.6 616.2 L880.7 614.8 L886.8 613.4 L892.9 612.0 L899.1 610.6 L905.3 609.3 L911.6 608.0 L917.9 606.6 L924.2 605.3 L930.6 604.1 L937.0 602.8" fill="none" stroke="#ff0000" stroke-width="3.0" stroke-linejoin="round"/>
<path d="M501.6 826.2 L504.1 822.9 L506.7 819.5 L509.4 816.2 L512.1 812.9 L514.8 809.7 L517.5 806.4 L520.3 803.2 L523.2 799.9 L526.0 796.7 L529.0 793.5 L531.9 790.3 L534.9 787.2 L538.0 784.0 L541.0 780.9 L544.2 777.8 L547.3 774.7 L550.5 771.7 L553.8 768.7 L557.0 765.7 L560.4 762.7 L563.7 759.7 L567.1 756.8 L570.6 753.9 L574.1 751.0 L577.6 748.1 L581.1 745.3 L584.7 742.5 L588.4 739.7 L592.1 736.9 L595.8 734.2 L599.6 731.5 L603.4 728.8 L607.2 726.1 L611.1 723.5 L615.0 720.9 L619.0 718.3 L623.0 715.8 L627.0 713.2 L631.1 710.7 L635.2 708.3 L639.4 705.8 L643.6 703.4 L647.9 701.0 L652.2 698.6 L656.5 696.3 L660.9 694.0 L665.3 691.7 L669.7 689.4 L674.2 687.2 L678.7 685.0 L683.3 682.8 L687.9 680.6 L692.6 678.5 L697.2 676.3" fill="none" stroke="#ff0000" stroke-width="1.8" stroke-linejoin="round"/>
<path d="M572.9 775.0 L600.0 757.0 L630.0 738.5 L650.0 727.0 L671.7 715.1" fill="none" stroke="#ff0000" stroke-width="2.2" stroke-linejoin="round"/>
<path d="M565.9 794.4 L590.0 778.5 L615.0 764.0 L640.0 750.0 L660.5 740.2" fill="none" stroke="#000000" stroke-width="2.6" stroke-linejoin="round"/>
<g fill="#000000"><circle cx="410.7" cy="1328.4" r="10"/><circle cx="413.6" cy="1321.5" r="10"/><circle cx="416.8" cy="1314.7" r="10"/><circle cx="420.0" cy="1307.9" r="10"/><circle cx="423.6" cy="1301.3" r="10"/><circle cx="427.1" cy="1294.7" r="10"/><circle cx="430.9" cy="1288.3" r="10"/><circle cx="434.9" cy="1281.9" r="10"/><circle cx="438.9" cy="1275.6" r="10"/><circle cx="443.1" cy="1269.3" r="10"/><circle cx="447.3" cy="1263.1" r="10"/><circle cx="451.4" cy="1256.9" r="10"/><circle cx="456.3" cy="1251.2" r="10"/><circle cx="461.0" cy="1246.0" r="10"/><circle cx="473.7" cy="1233.8" r="10"/><circle cx="485.7" cy="1215.3" r="10"/><circle cx="497.8" cy="1208.8" r="10"/><circle cx="511.6" cy="1202.8" r="10"/><circle cx="527.4" cy="1195.4" r="10"/><circle cx="541.3" cy="1189.4" r="10"/><circle cx="557.0" cy="1176.4" r="10"/><circle cx="571.8" cy="1169.5" r="10"/><circle cx="585.7" cy="1162.6" r="10"/><circle cx="599.6" cy="1155.6" r="10"/><circle cx="609.0" cy="1149.4" r="10"/></g>
<g fill="#ff0000"><circle cx="365.0" cy="1486.0" r="10"/><circle cx="365.7" cy="1478.5" r="10"/><circle cx="366.5" cy="1471.1" r="10"/><circle cx="367.3" cy="1463.6" r="10"/><circle cx="368.3" cy="1456.2" r="10"/><circle cx="369.4" cy="1448.8" r="10"/><circle cx="371.0" cy="1441.4" r="10"/><circle cx="373.5" cy="1434.5" r="10"/><circle cx="377.0" cy="1427.9" r="10"/><circle cx="378.0" cy="1420.5" r="10"/><circle cx="379.0" cy="1413.0" r="10"/><circle cx="379.9" cy="1405.6" r="10"/><circle cx="381.4" cy="1398.2" r="10"/><circle cx="382.8" cy="1390.9" r="10"/><circle cx="384.4" cy="1383.5" r="10"/><circle cx="386.0" cy="1376.2" r="10"/><circle cx="388.3" cy="1369.1" r="10"/><circle cx="391.7" cy="1362.5" r="10"/><circle cx="395.9" cy="1356.2" r="10"/><circle cx="400.0" cy="1350.1" r="10"/><circle cx="401.7" cy="1342.8" r="10"/><circle cx="403.4" cy="1335.5" r="10"/><circle cx="405.2" cy="1328.2" r="10"/><circle cx="407.0" cy="1320.9" r="10"/><circle cx="410.1" cy="1314.2" r="10"/><circle cx="413.7" cy="1307.5" r="10"/><circle cx="417.2" cy="1300.9" r="10"/><circle cx="419.7" cy="1293.9" r="10"/><circle cx="422.0" cy="1286.7" r="10"/><circle cx="425.2" cy="1280.0" r="10"/><circle cx="429.7" cy="1274.0" r="10"/><circle cx="432.9" cy="1267.4" r="10"/><circle cx="435.1" cy="1260.2" r="10"/><circle cx="438.4" cy="1253.6" r="10"/><circle cx="442.6" cy="1247.3" r="10"/><circle cx="445.9" cy="1240.7" r="10"/><circle cx="448.5" cy="1233.6" r="10"/><circle cx="452.6" cy="1227.4" r="10"/><circle cx="457.3" cy="1221.5" r="10"/><circle cx="462.1" cy="1215.8" r="10"/><circle cx="467.4" cy="1210.4" r="10"/><circle cx="470.0" cy="1207.7" r="10"/><circle cx="480.2" cy="1200.5" r="10"/><circle cx="494.1" cy="1193.1" r="10"/><circle cx="507.0" cy="1186.2" r="10"/><circle cx="520.0" cy="1178.3" r="10"/><circle cx="534.8" cy="1171.8" r="10"/><circle cx="548.7" cy="1163.5" r="10"/><circle cx="558.0" cy="1157.0" r="10"/><circle cx="567.2" cy="1150.5" r="10"/><circle cx="570.4" cy="1142.8" r="10"/><circle cx="584.8" cy="1142.8" r="10"/><circle cx="598.6" cy="1135.5" r="10"/><circle cx="608.8" cy="1128.9" r="10"/><circle cx="548.7" cy="1150.2" r="10"/><circle cx="542.0" cy="1156.8" r="10"/><circle cx="507.0" cy="1178.8" r="10"/><circle cx="497.8" cy="1184.6" r="10"/><circle cx="487.0" cy="1195.0" r="10"/><circle cx="475.0" cy="1204.5" r="10"/><circle cx="527.0" cy="1174.0" r="10"/><circle cx="591.5" cy="1139.5" r="10"/></g>
<g fill="#0000ff"><circle cx="364.3" cy="1485.6" r="10"/><circle cx="365.4" cy="1480.2" r="10"/><circle cx="366.6" cy="1474.8" r="10"/><circle cx="368.0" cy="1469.5" r="10"/><circle cx="369.4" cy="1464.2" r="10"/><circle cx="370.9" cy="1458.9" r="10"/><circle cx="372.4" cy="1453.6" r="10"/><circle cx="374.0" cy="1448.4" r="10"/><circle cx="375.5" cy="1443.1" r="10"/><circle cx="376.6" cy="1439.5" r="10"/><circle cx="387.4" cy="1405.9" r="10"/><circle cx="390.8" cy="1392.5" r="10"/><circle cx="402.3" cy="1372.7" r="10"/><circle cx="404.1" cy="1364.9" r="10"/><circle cx="406.8" cy="1357.4" r="10"/><circle cx="410.4" cy="1350.3" r="10"/><circle cx="414.0" cy="1343.1" r="10"/><circle cx="417.6" cy="1336.0" r="10"/><circle cx="421.1" cy="1328.8" r="10"/><circle cx="425.2" cy="1322.0" r="10"/><circle cx="430.9" cy="1316.5" r="10"/><circle cx="436.6" cy="1310.9" r="10"/><circle cx="440.9" cy="1304.1" r="10"/><circle cx="445.2" cy="1297.4" r="10"/><circle cx="450.0" cy="1291.0" r="10"/><circle cx="454.7" cy="1284.5" r="10"/><circle cx="459.4" cy="1278.1" r="10"/><circle cx="464.3" cy="1271.7" r="10"/><circle cx="468.3" cy="1265.0" r="10"/><circle cx="469.4" cy="1257.2" r="10"/><circle cx="404.9" cy="1348.8" r="10"/><circle cx="408.5" cy="1341.6" r="10"/><circle cx="412.1" cy="1334.5" r="10"/><circle cx="415.6" cy="1327.3" r="10"/><circle cx="419.7" cy="1320.5" r="10"/><circle cx="425.4" cy="1315.0" r="10"/><circle cx="431.1" cy="1309.4" r="10"/><circle cx="435.4" cy="1302.6" r="10"/><circle cx="439.7" cy="1295.9" r="10"/><circle cx="444.5" cy="1289.5" r="10"/><circle cx="449.2" cy="1283.0" r="10"/><circle cx="453.9" cy="1276.6" r="10"/><circle cx="458.8" cy="1270.2" r="10"/><circle cx="462.8" cy="1263.5" r="10"/><circle cx="463.9" cy="1255.7" r="10"/><circle cx="483.3" cy="1248.9" r="10"/><circle cx="497.2" cy="1239.1" r="10"/><circle cx="507.0" cy="1230.8" r="10"/><circle cx="525.1" cy="1230.8" r="10"/><circle cx="540.4" cy="1215.5" r="10"/><circle cx="548.7" cy="1207.8" r="10"/><circle cx="569.6" cy="1203.0" r="10"/><circle cx="584.9" cy="1201.6" r="10"/><circle cx="597.4" cy="1196.0" r="10"/><circle cx="609.2" cy="1189.0" r="10"/><circle cx="489.4" cy="1244.7" r="10"/><circle cx="515.5" cy="1229.5" r="10"/><circle cx="533.3" cy="1223.3" r="10"/></g>
<path d="M365.0 1486.5 L365.0 1486.4 L365.0 1486.3 L365.1 1486.0 L365.2 1485.6 L365.2 1485.1 L365.3 1484.5 L365.5 1483.8 L365.6 1482.9 L365.8 1482.0 L366.0 1481.0 L366.2 1479.8 L366.4 1478.6 L366.6 1477.2 L366.9 1475.8 L367.1 1474.2 L367.4 1472.6 L367.8 1470.8 L368.1 1469.0 L368.4 1467.1 L368.8 1465.1 L369.2 1463.1 L369.6 1460.9 L370.0 1458.7 L370.5 1456.4 L371.0 1454.0 L371.4 1451.6 L371.9 1449.1 L372.5 1446.5 L373.0 1443.9 L373.6 1441.2 L374.2 1438.5 L374.8 1435.7 L375.4 1432.9 L376.0 1430.0 L376.7 1427.1 L377.4 1424.1 L378.0 1421.1 L378.8 1418.1 L379.5 1415.1 L380.2 1412.0 L381.0 1408.9 L381.8 1405.8 L382.6 1402.6 L383.5 1399.5 L384.3 1396.3 L385.2 1393.1 L386.1 1389.9 L387.0 1386.7 L387.9 1383.5 L388.8 1380.3 L389.8 1377.1 L390.8 1373.9 L391.8 1370.7 L392.8 1367.5 L393.8 1364.3 L394.9 1361.1 L396.0 1357.9 L397.1 1354.7 L398.2 1351.5 L399.3 1348.4 L400.5 1345.3 L401.6 1342.1 L402.8 1339.0 L404.0 1335.9 L405.3 1332.9 L406.5 1329.8 L407.8 1326.8 L409.1 1323.8 L410.4 1320.8 L411.7 1317.8 L413.0 1314.9 L414.4 1312.0 L415.8 1309.1 L417.2 1306.2 L418.6 1303.4 L420.1 1300.6 L421.5 1297.8 L423.0 1295.0 L424.5 1292.3 L426.0 1289.6 L427.5 1286.9 L429.1 1284.2 L430.7 1281.6 L432.3 1279.0 L433.9 1276.4 L435.5 1273.9 L437.1 1271.4 L438.8 1268.9 L440.5 1266.4 L442.2 1264.0 L443.9 1261.6 L445.7 1259.2 L447.4 1256.9 L449.2 1254.5 L451.0 1252.3 L452.8 1250.0 L454.7 1247.8 L456.5 1245.5 L458.4 1243.4 L460.3 1241.2 L462.2 1239.1 L464.2 1237.0 L466.1 1234.9 L468.1 1232.9 L470.1 1230.8 L472.1 1228.8 L474.1 1226.9 L476.2 1224.9 L478.2 1223.0 L480.3 1221.1 L482.4 1219.2 L484.6 1217.4 L486.7 1215.6 L488.9 1213.8 L491.1 1212.0 L493.3 1210.2 L495.5 1208.5 L497.7 1206.8 L500.0 1205.1 L502.2 1203.5 L504.5 1201.8 L506.9 1200.2 L509.2 1198.6 L511.6 1197.0 L513.9 1195.5 L516.3 1193.9 L518.7 1192.4 L521.2 1190.9 L523.6 1189.5 L526.1 1188.0 L528.6 1186.6 L531.1 1185.2 L533.6 1183.8 L536.1 1182.4 L538.7 1181.0 L541.3 1179.7 L543.9 1178.4 L546.5 1177.1 L549.2 1175.8 L551.8 1174.5 L554.5 1173.2 L557.2 1172.0 L559.9 1170.8 L562.6 1169.6 L565.4 1168.4 L568.2 1167.2 L571.0 1166.1 L573.8 1164.9 L576.6 1163.8 L579.5 1162.7 L582.3 1161.6 L585.2 1160.5 L588.1 1159.4 L591.0 1158.4 L594.0 1157.3 L597.0 1156.3 L599.9 1155.3 L602.9 1154.3 L606.0 1153.3 L609.0 1152.3" fill="none" stroke="#000000" stroke-width="3.0" stroke-linejoin="round"/>
<path d="M365.0 1486.5 L365.0 1486.4 L365.0 1486.3 L365.1 1486.0 L365.2 1485.6 L365.2 1485.0 L365.3 1484.4 L365.5 1483.6 L365.6 1482.8 L365.8 1481.8 L366.0 1480.7 L366.2 1479.5 L366.4 1478.2 L366.6 1476.7 L366.9 1475.2 L367.1 1473.6 L367.4 1471.9 L367.8 1470.1 L368.1 1468.1 L368.4 1466.1 L368.8 1464.0 L369.2 1461.9 L369.6 1459.6 L370.0 1457.3 L370.5 1454.8 L371.0 1452.3 L371.4 1449.8 L371.9 1447.1 L372.5 1444.4 L373.0 1441.7 L373.6 1438.9 L374.2 1436.0 L374.8 1433.1 L375.4 1430.1 L376.0 1427.1 L376.7 1424.0 L377.4 1420.9 L378.0 1417.7 L378.8 1414.5 L379.5 1411.3 L380.2 1408.1 L381.0 1404.8 L381.8 1401.5 L382.6 1398.2 L383.5 1394.9 L384.3 1391.5 L385.2 1388.2 L386.1 1384.8 L387.0 1381.4 L387.9 1378.0 L388.8 1374.6 L389.8 1371.2 L390.8 1367.8 L391.8 1364.4 L392.8 1361.0 L393.8 1357.6 L394.9 1354.3 L396.0 1350.9 L397.1 1347.5 L398.2 1344.2 L399.3 1340.8 L400.5 1337.5 L401.6 1334.2 L402.8 1330.9 L404.0 1327.6 L405.3 1324.4 L406.5 1321.1 L407.8 1317.9 L409.1 1314.7 L410.4 1311.6 L411.7 1308.4 L413.0 1305.3 L414.4 1302.2 L415.8 1299.1 L417.2 1296.1 L418.6 1293.1 L420.1 1290.1 L421.5 1287.1 L423.0 1284.2 L424.5 1281.3 L426.0 1278.4 L427.5 1275.5 L429.1 1272.7 L430.7 1269.9 L432.3 1267.1 L433.9 1264.4 L435.5 1261.7 L437.1 1259.0 L438.8 1256.3 L440.5 1253.7 L442.2 1251.1 L443.9 1248.6 L445.7 1246.0 L447.4 1243.5 L449.2 1241.1 L451.0 1238.6 L452.8 1236.2 L454.7 1233.8 L456.5 1231.5 L458.4 1229.1 L460.3 1226.8 L462.2 1224.6 L464.2 1222.3 L466.1 1220.1 L468.1 1217.9 L470.1 1215.7 L472.1 1213.6 L474.1 1211.5 L476.2 1209.4 L478.2 1207.4 L480.3 1205.3 L482.4 1203.3 L484.6 1201.4 L486.7 1199.4 L488.9 1197.5 L491.1 1195.6 L493.3 1193.7 L495.5 1191.9 L497.7 1190.0 L500.0 1188.2 L502.2 1186.5 L504.5 1184.7 L506.9 1183.0 L509.2 1181.3 L511.6 1179.6 L513.9 1177.9 L516.3 1176.3 L518.7 1174.7 L521.2 1173.1 L523.6 1171.5 L526.1 1169.9 L528.6 1168.4 L531.1 1166.9 L533.6 1165.4 L536.1 1163.9 L538.7 1162.4 L541.3 1161.0 L543.9 1159.6 L546.5 1158.2 L549.2 1156.8 L551.8 1155.4 L554.5 1154.1 L557.2 1152.8 L559.9 1151.5 L562.6 1150.2 L565.4 1148.9 L568.2 1147.6 L571.0 1146.4 L573.8 1145.2 L576.6 1143.9 L579.5 1142.8 L582.3 1141.6 L585.2 1140.4 L588.1 1139.3 L591.0 1138.1 L594.0 1137.0 L597.0 1135.9 L599.9 1134.8 L602.9 1133.7 L606.0 1132.7 L609.0 1131.6" fill="none" stroke="#ff0000" stroke-width="3.0" stroke-linejoin="round"/>
<path d="M365.0 1486.5 L365.0 1486.5 L365.0 1486.3 L365.1 1486.1 L365.2 1485.7 L365.2 1485.3 L365.3 1484.7 L365.5 1484.1 L365.6 1483.4 L365.8 1482.5 L366.0 1481.6 L366.2 1480.6 L366.4 1479.5 L366.6 1478.3 L366.9 1477.0 L367.1 1475.7 L367.4 1474.2 L367.8 1472.7 L368.1 1471.1 L368.4 1469.4 L368.8 1467.7 L369.2 1465.8 L369.6 1463.9 L370.0 1462.0 L370.5 1459.9 L371.0 1457.9 L371.4 1455.7 L371.9 1453.5 L372.5 1451.2 L373.0 1448.9 L373.6 1446.6 L374.2 1444.2 L374.8 1441.7 L375.4 1439.2 L376.0 1436.7 L376.7 1434.1 L377.4 1431.6 L378.0 1428.9 L378.8 1426.3 L379.5 1423.6 L380.2 1420.9 L381.0 1418.2 L381.8 1415.4 L382.6 1412.7 L383.5 1409.9 L384.3 1407.1 L385.2 1404.3 L386.1 1401.5 L387.0 1398.7 L387.9 1395.9 L388.8 1393.1 L389.8 1390.3 L390.8 1387.4 L391.8 1384.6 L392.8 1381.8 L393.8 1379.0 L394.9 1376.2 L396.0 1373.4 L397.1 1370.6 L398.2 1367.9 L399.3 1365.1 L400.5 1362.4 L401.6 1359.6 L402.8 1356.9 L404.0 1354.2 L405.3 1351.5 L406.5 1348.9 L407.8 1346.2 L409.1 1343.6 L410.4 1341.0 L411.7 1338.4 L413.0 1335.8 L414.4 1333.3 L415.8 1330.8 L417.2 1328.2 L418.6 1325.8 L420.1 1323.3 L421.5 1320.9 L423.0 1318.5 L424.5 1316.1 L426.0 1313.7 L427.5 1311.4 L429.1 1309.1 L430.7 1306.8 L432.3 1304.5 L433.9 1302.3 L435.5 1300.0 L437.1 1297.8 L438.8 1295.7 L440.5 1293.5 L442.2 1291.4 L443.9 1289.3 L445.7 1287.3 L447.4 1285.2 L449.2 1283.2 L451.0 1281.2 L452.8 1279.2 L454.7 1277.3 L456.5 1275.4 L458.4 1273.5 L460.3 1271.6 L462.2 1269.7 L464.2 1267.9 L466.1 1266.1 L468.1 1264.3 L470.1 1262.6 L472.1 1260.8 L474.1 1259.1 L476.2 1257.4 L478.2 1255.7 L480.3 1254.1 L482.4 1252.5 L484.6 1250.9 L486.7 1249.3 L488.9 1247.7 L491.1 1246.2 L493.3 1244.7 L495.5 1243.2 L497.7 1241.7 L500.0 1240.2 L502.2 1238.8 L504.5 1237.3 L506.9 1235.9 L509.2 1234.6 L511.6 1233.2 L513.9 1231.8 L516.3 1230.5 L518.7 1229.2 L521.2 1227.9 L523.6 1226.6 L526.1 1225.4 L528.6 1224.1 L531.1 1222.9 L533.6 1221.7 L536.1 1220.5 L538.7 1219.3 L541.3 1218.1 L543.9 1217.0 L546.5 1215.9 L549.2 1214.7 L551.8 1213.6 L554.5 1212.6 L557.2 1211.5 L559.9 1210.4 L562.6 1209.4 L565.4 1208.4 L568.2 1207.3 L571.0 1206.3 L573.8 1205.3 L576.6 1204.4 L579.5 1203.4 L582.3 1202.5 L585.2 1201.5 L588.1 1200.6 L591.0 1199.7 L594.0 1198.8 L597.0 1197.9 L599.9 1197.0 L602.9 1196.1 L606.0 1195.3 L609.0 1194.4" fill="none" stroke="#0000ff" stroke-width="3.0" stroke-linejoin="round"/>
</g>
<g id="axes" fill="#000">
<rect x="301" y="24" width="6" height="1552" fill="#000"/>
<rect x="300" y="546" width="7" height="526" fill="#000"/>
<rect x="2185" y="24" width="6" height="1552" fill="#000"/>
<rect x="289" y="24" width="1902" height="7" fill="#000"/>
<rect x="289" y="539" width="1902" height="7" fill="#000"/>
<rect x="289" y="1054" width="1902" height="7" fill="#000"/>
<rect x="289" y="1569" width="1902" height="7" fill="#000"/>
<rect x="275" y="110" width="27" height="6" fill="#000"/>
<rect x="289" y="196" width="13" height="6" fill="#000"/>
<rect x="275" y="282" width="27" height="6" fill="#000"/>
<rect x="289" y="368" width="13" height="6" fill="#000"/>
<rect x="275" y="454" width="27" height="6" fill="#000"/>
<rect x="274" y="625" width="28" height="6" fill="#000"/>
<rect x="289" y="711" width="13" height="6" fill="#000"/>
<rect x="274" y="797" width="28" height="6" fill="#000"/>
<rect x="289" y="883" width="13" height="6" fill="#000"/>
<rect x="274" y="969" width="28" height="6" fill="#000"/>
<rect x="275" y="1140" width="27" height="6" fill="#000"/>
<rect x="289" y="1226" width="13" height="6" fill="#000"/>
<rect x="275" y="1312" width="27" height="6" fill="#000"/>
<rect x="289" y="1398" width="13" height="6" fill="#000"/>
<rect x="275" y="1484" width="27" height="6" fill="#000"/>
<rect x="362" y="545" width="6" height="27" fill="#000"/>
<rect x="483" y="545" width="7" height="12" fill="#000"/>
<rect x="605" y="545" width="6" height="27" fill="#000"/>
<rect x="726" y="545" width="7" height="12" fill="#000"/>
<rect x="848" y="545" width="6" height="27" fill="#000"/>
<rect x="969" y="545" width="7" height="12" fill="#000"/>
<rect x="1091" y="545" width="7" height="27" fill="#000"/>
<rect x="1213" y="545" width="6" height="12" fill="#000"/>
<rect x="1334" y="545" width="7" height="27" fill="#000"/>
<rect x="1456" y="545" width="6" height="12" fill="#000"/>
<rect x="1577" y="545" width="7" height="27" fill="#000"/>
<rect x="1699" y="545" width="6" height="12" fill="#000"/>
<rect x="1820" y="545" width="7" height="27" fill="#000"/>
<rect x="1942" y="545" width="6" height="12" fill="#000"/>
<rect x="2063" y="545" width="7" height="27" fill="#000"/>
<rect x="418" y="1060" width="6" height="27" fill="#000"/>
<rect x="536" y="1060" width="6" height="12" fill="#000"/>
<rect x="654" y="1060" width="6" height="27" fill="#000"/>
<rect x="771" y="1060" width="7" height="12" fill="#000"/>
<rect x="889" y="1060" width="7" height="27" fill="#000"/>
<rect x="1007" y="1060" width="7" height="12" fill="#000"/>
<rect x="1125" y="1060" width="6" height="27" fill="#000"/>
<rect x="1243" y="1060" width="6" height="12" fill="#000"/>
<rect x="1361" y="1060" width="6" height="27" fill="#000"/>
<rect x="1478" y="1060" width="7" height="12" fill="#000"/>
<rect x="1596" y="1060" width="7" height="27" fill="#000"/>
<rect x="1714" y="1060" width="6" height="12" fill="#000"/>
<rect x="1832" y="1060" width="6" height="27" fill="#000"/>
<rect x="1950" y="1060" width="6" height="12" fill="#000"/>
<rect x="2067" y="1060" width="7" height="27" fill="#000"/>
<rect x="362" y="1575" width="6" height="27" fill="#000"/>
<rect x="483" y="1575" width="7" height="12" fill="#000"/>
<rect x="605" y="1575" width="6" height="27" fill="#000"/>
<rect x="726" y="1575" width="7" height="12" fill="#000"/>
<rect x="848" y="1575" width="6" height="27" fill="#000"/>
<rect x="969" y="1575" width="7" height="12" fill="#000"/>
<rect x="1091" y="1575" width="7" height="27" fill="#000"/>
<rect x="1213" y="1575" width="6" height="12" fill="#000"/>
<rect x="1334" y="1575" width="7" height="27" fill="#000"/>
<rect x="1456" y="1575" width="6" height="12" fill="#000"/>
<rect x="1577" y="1575" width="7" height="27" fill="#000"/>
<rect x="1699" y="1575" width="6" height="12" fill="#000"/>
<rect x="1820" y="1575" width="7" height="27" fill="#000"/>
<rect x="1942" y="1575" width="6" height="12" fill="#000"/>
<rect x="2063" y="1575" width="7" height="27" fill="#000"/>
<rect x="2185" y="1575" width="6" height="12" fill="#000"/>
</g>
<g id="labels" font-family="'Liberation Serif', serif" fill="#000">
<text x="187.03" y="124.9" font-size="52.2" textLength="67.26" lengthAdjust="spacingAndGlyphs" stroke="#000" stroke-width="1.6" stroke-linejoin="round">1.0</text>
<text x="189.80" y="296.9" font-size="52.2" textLength="64.41" lengthAdjust="spacingAndGlyphs" stroke="#000" stroke-width="1.6" stroke-linejoin="round">0.5</text>
<text x="189.80" y="468.9" font-size="52.2" textLength="64.41" lengthAdjust="spacingAndGlyphs" stroke="#000" stroke-width="1.6" stroke-linejoin="round">0.0</text>
<text x="187.03" y="639.9" font-size="52.2" textLength="67.26" lengthAdjust="spacingAndGlyphs" stroke="#000" stroke-width="1.6" stroke-linejoin="round">1.0</text>
<text x="189.80" y="811.9" font-size="52.2" textLength="64.41" lengthAdjust="spacingAndGlyphs" stroke="#000" stroke-width="1.6" stroke-linejoin="round">0.5</text>
<text x="189.80" y="983.9" font-size="52.2" textLength="64.41" lengthAdjust="spacingAndGlyphs" stroke="#000" stroke-width="1.6" stroke-linejoin="round">0.0</text>
<text x="187.03" y="1154.9" font-size="52.2" textLength="67.26" lengthAdjust="spacingAndGlyphs" stroke="#000" stroke-width="1.6" stroke-linejoin="round">1.0</text>
<text x="189.80" y="1326.9" font-size="52.2" textLength="64.41" lengthAdjust="spacingAndGlyphs" stroke="#000" stroke-width="1.6" stroke-linejoin="round">0.5</text>
<text x="189.80" y="1498.9" font-size="52.2" textLength="64.41" lengthAdjust="spacingAndGlyphs" stroke="#000" stroke-width="1.6" stroke-linejoin="round">0.0</text>
<text x="350.38" y="1664.2" font-size="60.4" textLength="28.84" lengthAdjust="spacingAndGlyphs" stroke="#000" stroke-width="2.6" stroke-linejoin="round">0</text>
<text x="530.83" y="1664.2" font-size="60.4" textLength="154.64" lengthAdjust="spacingAndGlyphs" stroke="#000" stroke-width="2.6" stroke-linejoin="round">20000</text>
<text x="774.48" y="1664.2" font-size="60.4" textLength="153.57" lengthAdjust="spacingAndGlyphs" stroke="#000" stroke-width="2.6" stroke-linejoin="round">40000</text>
<text x="1017.46" y="1664.2" font-size="60.4" textLength="152.68" lengthAdjust="spacingAndGlyphs" stroke="#000" stroke-width="2.6" stroke-linejoin="round">60000</text>
<text x="1260.03" y="1664.2" font-size="60.4" textLength="154.84" lengthAdjust="spacingAndGlyphs" stroke="#000" stroke-width="2.6" stroke-linejoin="round">80000</text>
<text x="1482.70" y="1664.2" font-size="60.4" textLength="190.52" lengthAdjust="spacingAndGlyphs" stroke="#000" stroke-width="2.6" stroke-linejoin="round">100000</text>
<text x="1727.13" y="1664.2" font-size="60.4" textLength="189.58" lengthAdjust="spacingAndGlyphs" stroke="#000" stroke-width="2.6" stroke-linejoin="round">120000</text>
<text x="1968.27" y="1664.2" font-size="60.4" textLength="191.56" lengthAdjust="spacingAndGlyphs" stroke="#000" stroke-width="2.6" stroke-linejoin="round">140000</text>
<text x="332.2" y="109.2" font-size="59.5" font-weight="bold">(</text>
<text x="354.0" y="115.6" font-size="65" font-weight="bold" textLength="31.0" lengthAdjust="spacingAndGlyphs">a</text>
<text x="385.0" y="109.2" font-size="59.5" font-weight="bold">)</text>
<text x="320.0" y="647.6" font-size="59.5" font-weight="bold">(</text>
<text x="339.5" y="654.0" font-size="65" font-weight="bold" textLength="38.0" lengthAdjust="spacingAndGlyphs">b</text>
<text x="379.0" y="647.6" font-size="59.5" font-weight="bold">)</text>
<text x="328.1" y="1156.3" font-size="59.5" font-weight="bold">(</text>
<text x="349.5" y="1162.7" font-size="65" font-weight="bold" textLength="27.0" lengthAdjust="spacingAndGlyphs">c</text>
<text x="377.0" y="1156.3" font-size="59.5" font-weight="bold">)</text>
<text x="1164.85" y="1767.8" font-size="79" font-weight="bold" textLength="157.44" lengthAdjust="spacingAndGlyphs">time</text>
<text x="1367.72" y="1767.8" font-size="79" font-weight="bold" textLength="105.35" lengthAdjust="spacingAndGlyphs">sec</text>
<text x="1343.80" y="1760.3" font-size="70.8" font-weight="bold" textLength="22.49" lengthAdjust="spacingAndGlyphs">(</text>
<text x="1475.85" y="1760.3" font-size="70.8" font-weight="bold" textLength="23.82" lengthAdjust="spacingAndGlyphs">)</text>
</g>
<defs><clipPath id="one"><path d="M-2 -80H46V-6.6H25.9V2H19.7V-6.6H-2Z"/></clipPath></defs>
<g transform="translate(88.8 888.8) rotate(-90)" font-family="'Liberation Sans', sans-serif" fill="#000" font-size="77">
<text x="0" y="0" clip-path="url(#one)">1</text>
<text x="42.83" y="0">-m<tspan font-size="49" dy="20">t</tspan><tspan dy="-20">/m</tspan><tspan font-size="49" dy="20">0</tspan></text>
</g>
<g font-family="'Liberation Serif', serif" fill="#000">
<circle cx="1532" cy="188" r="10" fill="#000000"/>
<text x="1599.15" y="204.0" font-size="43.3" textLength="403.28" lengthAdjust="spacingAndGlyphs">PLA/TEC/5CV@AC_1</text>
<circle cx="1532" cy="250" r="10" fill="#ff0000"/>
<text x="1599.15" y="265.7" font-size="43.3" textLength="404.77" lengthAdjust="spacingAndGlyphs">PLA/TEC/5CV@AC_2</text>
<circle cx="1532" cy="311.1" r="10" fill="#0000ff"/>
<text x="1599.15" y="327.2" font-size="43.3" textLength="403.92" lengthAdjust="spacingAndGlyphs">PLA/TEC/5CV@AC_3</text>
<rect x="1475" y="375" width="115" height="3" fill="#000000"/>
<text x="1599.53" y="392.0" font-size="43" textLength="157.74" lengthAdjust="spacingAndGlyphs">pseudo2</text>
<text x="1757.07" y="374.1" font-size="27" textLength="31.55" lengthAdjust="spacingAndGlyphs">nd</text>
<text x="1800.10" y="392.0" font-size="43" textLength="98.54" lengthAdjust="spacingAndGlyphs">order</text>
<text x="1913.62" y="392.0" font-size="43" textLength="112.54" lengthAdjust="spacingAndGlyphs">fitting</text>
<text x="2037.39" y="392.0" font-size="43" textLength="27.09" lengthAdjust="spacingAndGlyphs">R</text>
<text x="2064.48" y="374.1" font-size="27" textLength="14.02" lengthAdjust="spacingAndGlyphs">2</text>
<text x="2077.90" y="392.0" font-size="43" textLength="22.56" lengthAdjust="spacingAndGlyphs">=</text>
<text x="2100.27" y="392.0" font-size="43" textLength="71.97" lengthAdjust="spacingAndGlyphs">0.98</text>
<rect x="1475" y="440" width="115" height="3" fill="#ff0000"/>
<text x="1599.53" y="457.7" font-size="43" textLength="157.74" lengthAdjust="spacingAndGlyphs">pseudo2</text>
<text x="1757.07" y="439.8" font-size="27" textLength="31.55" lengthAdjust="spacingAndGlyphs">nd</text>
<text x="1800.10" y="457.7" font-size="43" textLength="98.54" lengthAdjust="spacingAndGlyphs">order</text>
<text x="1913.62" y="457.7" font-size="43" textLength="112.54" lengthAdjust="spacingAndGlyphs">fitting</text>
<text x="2037.39" y="457.7" font-size="43" textLength="27.09" lengthAdjust="spacingAndGlyphs">R</text>
<text x="2064.48" y="439.8" font-size="27" textLength="14.02" lengthAdjust="spacingAndGlyphs">2</text>
<text x="2077.90" y="457.7" font-size="43" textLength="22.56" lengthAdjust="spacingAndGlyphs">=</text>
<text x="2100.27" y="457.7" font-size="43" textLength="71.97" lengthAdjust="spacingAndGlyphs">0.98</text>
<rect x="1475" y="504" width="115" height="3" fill="#0000ff"/>
<text x="1599.53" y="522.2" font-size="43" textLength="157.74" lengthAdjust="spacingAndGlyphs">pseudo2</text>
<text x="1757.07" y="504.3" font-size="27" textLength="31.55" lengthAdjust="spacingAndGlyphs">nd</text>
<text x="1800.10" y="522.2" font-size="43" textLength="98.54" lengthAdjust="spacingAndGlyphs">order</text>
<text x="1913.62" y="522.2" font-size="43" textLength="112.54" lengthAdjust="spacingAndGlyphs">fitting</text>
<text x="2037.39" y="522.2" font-size="43" textLength="27.09" lengthAdjust="spacingAndGlyphs">R</text>
<text x="2064.48" y="504.3" font-size="27" textLength="14.02" lengthAdjust="spacingAndGlyphs">2</text>
<text x="2077.90" y="522.2" font-size="43" textLength="22.56" lengthAdjust="spacingAndGlyphs">=</text>
<text x="2100.27" y="522.2" font-size="43" textLength="71.97" lengthAdjust="spacingAndGlyphs">0.98</text>
</g>
<g font-family="'Liberation Serif', serif" fill="#000">
<circle cx="1534.8" cy="700.8" r="10" fill="#000000"/>
<text x="1601.25" y="717.3" font-size="43.3" textLength="425.69" lengthAdjust="spacingAndGlyphs">PLA/TEC/10CV@AC_1</text>
<circle cx="1534.8" cy="762.6" r="10" fill="#ff0000"/>
<text x="1601.25" y="778.8" font-size="43.3" textLength="427.18" lengthAdjust="spacingAndGlyphs">PLA/TEC/10CV@AC_2</text>
<circle cx="1534.8" cy="824" r="10" fill="#0000ff"/>
<text x="1601.25" y="840.0" font-size="43.3" textLength="426.32" lengthAdjust="spacingAndGlyphs">PLA/TEC/10CV@AC_3</text>
<rect x="1477" y="888" width="115" height="3" fill="#000000"/>
<text x="1601.93" y="905.2" font-size="43" textLength="157.74" lengthAdjust="spacingAndGlyphs">pseudo2</text>
<text x="1759.47" y="887.3" font-size="27" textLength="31.55" lengthAdjust="spacingAndGlyphs">nd</text>
<text x="1802.50" y="905.2" font-size="43" textLength="98.54" lengthAdjust="spacingAndGlyphs">order</text>
<text x="1916.02" y="905.2" font-size="43" textLength="112.54" lengthAdjust="spacingAndGlyphs">fitting</text>
<text x="2039.79" y="905.2" font-size="43" textLength="27.09" lengthAdjust="spacingAndGlyphs">R</text>
<text x="2066.88" y="887.3" font-size="27" textLength="14.02" lengthAdjust="spacingAndGlyphs">2</text>
<text x="2080.30" y="905.2" font-size="43" textLength="22.56" lengthAdjust="spacingAndGlyphs">=</text>
<text x="2102.67" y="905.2" font-size="43" textLength="71.97" lengthAdjust="spacingAndGlyphs">0.93</text>
<rect x="1477" y="952" width="115" height="4" fill="#ff0000"/>
<text x="1601.93" y="970.4" font-size="43" textLength="157.74" lengthAdjust="spacingAndGlyphs">pseudo2</text>
<text x="1759.47" y="952.5" font-size="27" textLength="31.55" lengthAdjust="spacingAndGlyphs">nd</text>
<text x="1802.50" y="970.4" font-size="43" textLength="98.54" lengthAdjust="spacingAndGlyphs">order</text>
<text x="1916.02" y="970.4" font-size="43" textLength="112.54" lengthAdjust="spacingAndGlyphs">fitting</text>
<text x="2039.79" y="970.4" font-size="43" textLength="27.09" lengthAdjust="spacingAndGlyphs">R</text>
<text x="2066.88" y="952.5" font-size="27" textLength="14.02" lengthAdjust="spacingAndGlyphs">2</text>
<text x="2080.30" y="970.4" font-size="43" textLength="22.56" lengthAdjust="spacingAndGlyphs">=</text>
<text x="2102.67" y="970.4" font-size="43" textLength="71.97" lengthAdjust="spacingAndGlyphs">0.93</text>
<rect x="1477" y="1017" width="115" height="3" fill="#0000ff"/>
<text x="1601.93" y="1035.0" font-size="43" textLength="157.74" lengthAdjust="spacingAndGlyphs">pseudo2</text>
<text x="1759.47" y="1017.1" font-size="27" textLength="31.55" lengthAdjust="spacingAndGlyphs">nd</text>
<text x="1802.50" y="1035.0" font-size="43" textLength="98.54" lengthAdjust="spacingAndGlyphs">order</text>
<text x="1916.02" y="1035.0" font-size="43" textLength="112.54" lengthAdjust="spacingAndGlyphs">fitting</text>
<text x="2039.79" y="1035.0" font-size="43" textLength="27.09" lengthAdjust="spacingAndGlyphs">R</text>
<text x="2066.88" y="1017.1" font-size="27" textLength="14.02" lengthAdjust="spacingAndGlyphs">2</text>
<text x="2080.30" y="1035.0" font-size="43" textLength="22.56" lengthAdjust="spacingAndGlyphs">=</text>
<text x="2102.67" y="1035.0" font-size="43" textLength="71.97" lengthAdjust="spacingAndGlyphs">0.93</text>
</g>
<g font-family="'Liberation Serif', serif" fill="#000">
<circle cx="1533.8" cy="1209" r="10" fill="#000000"/>
<text x="1601.25" y="1226.4" font-size="43.3" textLength="425.49" lengthAdjust="spacingAndGlyphs">PLA/TEC/10CV@AC_1</text>
<circle cx="1533.8" cy="1270.5" r="10" fill="#ff0000"/>
<text x="1601.25" y="1287.6" font-size="43.3" textLength="426.98" lengthAdjust="spacingAndGlyphs">PLA/TEC/10CV@AC_2</text>
<circle cx="1533.8" cy="1331.6" r="10" fill="#0000ff"/>
<text x="1601.25" y="1348.7" font-size="43.3" textLength="426.12" lengthAdjust="spacingAndGlyphs">PLA/TEC/10CV@AC_3</text>
<rect x="1477" y="1396" width="115" height="3" fill="#000000"/>
<text x="1601.93" y="1413.5" font-size="43" textLength="157.74" lengthAdjust="spacingAndGlyphs">pseudo2</text>
<text x="1759.47" y="1395.6" font-size="27" textLength="31.55" lengthAdjust="spacingAndGlyphs">nd</text>
<text x="1802.50" y="1413.5" font-size="43" textLength="98.54" lengthAdjust="spacingAndGlyphs">order</text>
<text x="1916.02" y="1413.5" font-size="43" textLength="112.54" lengthAdjust="spacingAndGlyphs">fitting</text>
<text x="2039.79" y="1413.5" font-size="43" textLength="27.09" lengthAdjust="spacingAndGlyphs">R</text>
<text x="2066.88" y="1395.6" font-size="27" textLength="14.02" lengthAdjust="spacingAndGlyphs">2</text>
<text x="2080.30" y="1413.5" font-size="43" textLength="22.56" lengthAdjust="spacingAndGlyphs">=</text>
<text x="2102.66" y="1413.5" font-size="43" textLength="72.40" lengthAdjust="spacingAndGlyphs">0.99</text>
<rect x="1477" y="1461" width="115" height="3" fill="#ff0000"/>
<text x="1601.93" y="1478.7" font-size="43" textLength="157.74" lengthAdjust="spacingAndGlyphs">pseudo2</text>
<text x="1759.47" y="1460.8" font-size="27" textLength="31.55" lengthAdjust="spacingAndGlyphs">nd</text>
<text x="1802.50" y="1478.7" font-size="43" textLength="98.54" lengthAdjust="spacingAndGlyphs">order</text>
<text x="1916.02" y="1478.7" font-size="43" textLength="112.54" lengthAdjust="spacingAndGlyphs">fitting</text>
<text x="2039.79" y="1478.7" font-size="43" textLength="27.09" lengthAdjust="spacingAndGlyphs">R</text>
<text x="2066.88" y="1460.8" font-size="27" textLength="14.02" lengthAdjust="spacingAndGlyphs">2</text>
<text x="2080.30" y="1478.7" font-size="43" textLength="22.56" lengthAdjust="spacingAndGlyphs">=</text>
<text x="2102.66" y="1478.7" font-size="43" textLength="72.40" lengthAdjust="spacingAndGlyphs">0.99</text>
<rect x="1477" y="1526" width="115" height="3" fill="#0000ff"/>
<text x="1601.93" y="1543.2" font-size="43" textLength="157.74" lengthAdjust="spacingAndGlyphs">pseudo2</text>
<text x="1759.47" y="1525.3" font-size="27" textLength="31.55" lengthAdjust="spacingAndGlyphs">nd</text>
<text x="1802.50" y="1543.2" font-size="43" textLength="98.54" lengthAdjust="spacingAndGlyphs">order</text>
<text x="1916.02" y="1543.2" font-size="43" textLength="112.54" lengthAdjust="spacingAndGlyphs">fitting</text>
<text x="2039.79" y="1543.2" font-size="43" textLength="27.09" lengthAdjust="spacingAndGlyphs">R</text>
<text x="2066.88" y="1525.3" font-size="27" textLength="14.02" lengthAdjust="spacingAndGlyphs">2</text>
<text x="2080.30" y="1543.2" font-size="43" textLength="22.56" lengthAdjust="spacingAndGlyphs">=</text>
<text x="2102.66" y="1543.2" font-size="43" textLength="72.40" lengthAdjust="spacingAndGlyphs">0.99</text>
</g>
</svg>
</body></html>
